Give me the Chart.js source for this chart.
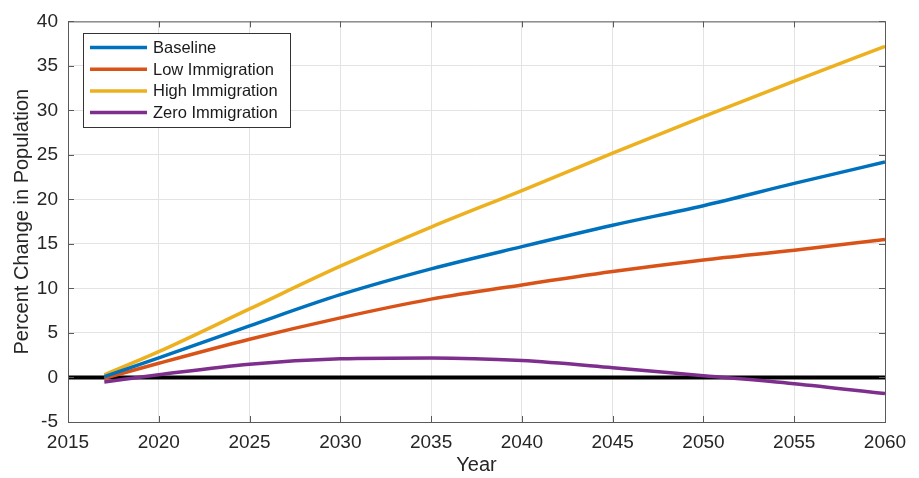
<!DOCTYPE html>
<html>
<head>
<meta charset="utf-8">
<script src="https://cdn.jsdelivr.net/npm/chart.js@4/dist/chart.umd.min.js"></script>
<style>
html,body{margin:0;padding:0;background:#fff;}
#wrap{position:relative;width:919px;height:478px;}
</style>
</head>
<body>
<div id="wrap"><canvas id="c" width="919" height="478"></canvas></div>
<script>
const years = [2017, 2020, 2025, 2030, 2035, 2040, 2045, 2050, 2055, 2060];
const baseline = [0.1, 2.2, 5.8, 9.3, 12.2, 14.7, 17.1, 19.3, 21.8, 24.2];
const lowImm   = [-0.1, 1.6, 4.3, 6.7, 8.8, 10.4, 11.9, 13.2, 14.3, 15.5];
const highImm  = [0.3, 2.9, 7.7, 12.5, 16.9, 21.0, 25.2, 29.3, 33.3, 37.2];
const zeroImm  = [-0.5, 0.3, 1.5, 2.1, 2.2, 1.9, 1.1, 0.2, -0.7, -1.8];
const seriesNames = ['Baseline', 'Low Immigration', 'High Immigration', 'Zero Immigration'];
const colors = ['#0072BD', '#D95319', '#EDB120', '#7E2F8E'];
const xTicks = [2015, 2020, 2025, 2030, 2035, 2040, 2045, 2050, 2055, 2060];
const yTicks = [-5, 0, 5, 10, 15, 20, 25, 30, 35, 40];

const FONT = "'Liberation Sans', Arial, Helvetica, sans-serif";
const pts = arr => years.map((y, i) => ({x: y, y: arr[i]}));

const datasets = [baseline, lowImm, highImm, zeroImm].map((arr, i) => ({
  label: seriesNames[i],
  data: pts(arr),
  borderColor: colors[i],
  backgroundColor: colors[i],
  borderWidth: 3.5,
  pointRadius: 0,
  cubicInterpolationMode: 'monotone',
  fill: false
}));
datasets.push({
  label: 'zero',
  data: [{x: xTicks[0], y: 0}, {x: xTicks[xTicks.length - 1], y: 0}],
  borderColor: '#000',
  borderWidth: 4,
  pointRadius: 0,
  fill: false
});

const boxPlugin = {
  id: 'box',
  afterDatasetsDraw(chart) {
    const {ctx, chartArea: a, scales} = chart;
    ctx.save();
    ctx.strokeStyle = '#5a5a5a';
    ctx.lineWidth = 1;
    ctx.strokeRect(a.left + 0.5, a.top + 0.5, a.right - a.left, a.bottom - a.top);
    const L = 6;
    ctx.beginPath();
    xTicks.forEach(v => {
      const px = Math.round(scales.x.getPixelForValue(v)) + 0.5;
      ctx.moveTo(px, a.bottom); ctx.lineTo(px, a.bottom - L);
      ctx.moveTo(px, a.top); ctx.lineTo(px, a.top + L);
    });
    yTicks.forEach(v => {
      const py = Math.round(scales.y.getPixelForValue(v)) + 0.5;
      ctx.moveTo(a.left, py); ctx.lineTo(a.left + L, py);
      ctx.moveTo(a.right, py); ctx.lineTo(a.right - L, py);
    });
    ctx.stroke();
    // legend
    const bx = 83, by = 33, bw = 207, bh = 94;
    ctx.fillStyle = '#fff';
    ctx.fillRect(bx, by, bw, bh);
    ctx.strokeStyle = '#333';
    ctx.strokeRect(bx + 0.5, by + 0.5, bw, bh);
    ctx.font = '16.5px ' + FONT;
    ctx.textBaseline = 'middle';
    ctx.textAlign = 'left';
    seriesNames.forEach((n, i) => {
      const y = by + 14.5 + i * 21.7;
      ctx.strokeStyle = colors[i];
      ctx.lineWidth = 3.5;
      ctx.beginPath();
      ctx.moveTo(90, y); ctx.lineTo(147, y);
      ctx.stroke();
      ctx.fillStyle = '#1a1a1a';
      ctx.fillText(n, 153, y + 1);
    });
    ctx.restore();
  }
};

new Chart(document.getElementById('c'), {
  type: 'line',
  data: {datasets},
  options: {
    responsive: false,
    animation: false,
    layout: {padding: {top: 18, right: 34, left: 0, bottom: 0}},
    plugins: {legend: {display: false}, tooltip: {enabled: false}},
    scales: {
      x: {
        type: 'linear', min: 2015, max: 2060,
        afterBuildTicks: s => { s.ticks = xTicks.map(v => ({value: v})); },
        afterFit: s => { s.height = 56; },
        grid: {color: '#e3e3e3', drawTicks: false},
        border: {display: false},
        ticks: {color: '#262626', font: {family: FONT, size: 19}, padding: 9, maxRotation: 0,
                callback: v => String(v)},
        title: {display: true, text: 'Year', color: '#262626', font: {family: FONT, size: 20}, padding: {top: 0, bottom: 1}}
      },
      y: {
        type: 'linear', min: -5, max: 40,
        afterBuildTicks: s => { s.ticks = yTicks.map(v => ({value: v})); },
        afterFit: s => { s.width = 68; },
        grid: {color: '#e3e3e3', drawTicks: false},
        border: {display: false},
        ticks: {color: '#262626', font: {family: FONT, size: 19}, padding: 10},
        title: {display: true, text: 'Percent Change in Population', color: '#262626', font: {family: FONT, size: 20}, padding: {top: 10, bottom: 0}}
      }
    }
  },
  plugins: [boxPlugin]
});
</script>
</body>
</html>
